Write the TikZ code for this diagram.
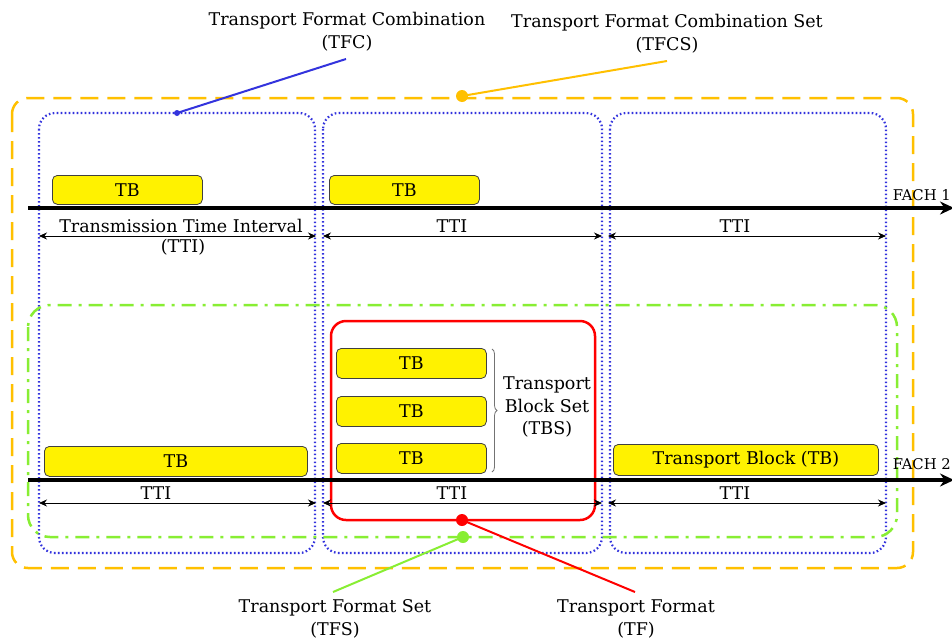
\documentclass[tikz,border=0pt]{standalone}
\usepackage{fontspec}
\setmainfont{DejaVu Serif}
\usetikzlibrary{arrows.meta,decorations.pathreplacing}
\definecolor{tfcsorange}{HTML}{FFC000}
\definecolor{tfcblue}{HTML}{3333DD}
\definecolor{tfsgreen}{HTML}{88EE33}
\definecolor{tfred}{HTML}{FF0000}
\begin{document}
\begin{tikzpicture}[x=1pt,y=-1pt,
  font=\fontsize{17.5}{22.5}\selectfont,
  tb/.style={draw=black!75, fill=yellow, rounded corners=5pt, line width=0.8pt, inner sep=0pt, anchor=north west},
  lbl/.style={align=center, inner sep=0pt},
  fachlbl/.style={inner sep=0pt, anchor=east, font=\fontsize{14.8}{17}\selectfont},
  tfcsbox/.style={draw=tfcsorange, line width=2.5pt, dash pattern=on 18pt off 9pt, rounded corners=16pt},
  tfcbox/.style={draw=tfcblue, line width=2.2pt, dash pattern=on 1.6pt off 2.4pt, rounded corners=16pt},
  tfsbox/.style={draw=tfsgreen, line width=2.5pt, dash pattern=on 14pt off 7pt on 3pt off 7pt, rounded corners=22pt},
  tfbox/.style={draw=tfred, line width=2.5pt, rounded corners=15pt},
  fach/.style={line width=4pt, -{Stealth[length=14pt,width=13pt]}},
  tti/.style={line width=0.8pt, {Stealth[length=8pt,width=7pt]}-{Stealth[length=8pt,width=7pt]}},
  callout/.style={line width=2pt}
]
\useasboundingbox[fill=white] (0,0) rectangle (952,640);

% containers
\draw[tfcsbox] (12,98) rectangle (913,568);
\draw[tfcbox] (39,113) rectangle (315,553);
\draw[tfcbox] (323,113) rectangle (602,553);
\draw[tfcbox] (610,113) rectangle (886,553);
\draw[tfsbox] (28,305) rectangle (897,537);
\draw[tfbox] (331,321) rectangle (595,520);

% channels
\coordinate (f1s) at (28,208);
\coordinate (f1e) at (954,208);
\coordinate (f2s) at (28,480);
\coordinate (f2e) at (954,480);
\draw[fach] (f1s) -- (f1e);
\draw[fach] (f2s) -- (f2e);
\node[fachlbl] (fach1) at (951,195) {FACH 1};
\node[fachlbl] (fach2) at (951,464) {FACH 2};

% transport blocks, FACH 1
\node[tb, minimum width=150pt, minimum height=29pt] (tbA) at (52,175) {TB};
\node[tb, minimum width=150pt, minimum height=29pt] (tbB) at (329,175) {TB};

% transport blocks, FACH 2
\node[tb, minimum width=263pt, minimum height=30pt] (tbC) at (44,446) {TB};
\node[tb, minimum width=150pt, minimum height=30pt] (tbD1) at (336,348) {TB};
\node[tb, minimum width=150pt, minimum height=30pt] (tbD2) at (336,396) {TB};
\node[tb, minimum width=150pt, minimum height=30pt] (tbD3) at (336,443) {TB};
\node[tb, minimum width=265pt, minimum height=31pt] (tbE) at (613,444) {Transport Block (TB)};

% brace
\coordinate (brt) at (492,349);
\coordinate (brb) at (492,472);
\draw[black!55, line width=0.8pt, decorate, decoration={brace, amplitude=5pt}] (brt) -- (brb);
\node[lbl] (tbs) at (547,407) {Transport\\Block Set\\(TBS)};

% TTI arrows, FACH 1
\coordinate (a1) at (39,236); \coordinate (a2) at (316,236);
\coordinate (a3) at (323,236); \coordinate (a4) at (602,236);
\coordinate (a5) at (608,236); \coordinate (a6) at (886,236);
\draw[tti] (a1) -- (a2);
\draw[tti] (a3) -- (a4);
\draw[tti] (a5) -- (a6);
\node[lbl] (ttiA) at (181,226) {Transmission Time Interval};
\node[lbl] (ttiAb) at (183,247) {(TTI)};
\node[lbl] (ttiB) at (452,226) {TTI};
\node[lbl] (ttiC) at (735,226) {TTI};

% TTI arrows, FACH 2
\coordinate (b1) at (39,503); \coordinate (b2) at (316,503);
\coordinate (b3) at (323,503); \coordinate (b4) at (602,503);
\coordinate (b5) at (608,503); \coordinate (b6) at (886,503);
\draw[tti] (b1) -- (b2);
\draw[tti] (b3) -- (b4);
\draw[tti] (b5) -- (b6);
\node[lbl] (ttiD) at (156,493) {TTI};
\node[lbl] (ttiE) at (452,493) {TTI};
\node[lbl] (ttiF) at (735,493) {TTI};

% callouts
\node[lbl] (tfc) at (347,31.5) {Transport Format Combination\\(TFC)};
\node[lbl] (tfcs) at (667,33.5) {Transport Format Combination Set\\(TFCS)};
\node[lbl] (tfs) at (335,619) {Transport Format Set\\(TFS)};
\node[lbl] (tf) at (636,619) {Transport Format\\(TF)};

\coordinate (tfcdot) at (177,113);
\coordinate (tfcend) at (346,59);
\draw[callout, tfcblue] (tfcdot) -- (tfcend);
\fill[tfcblue] (tfcdot) circle (3pt);

\coordinate (tfcsdot) at (462,96);
\coordinate (tfcsend) at (667,61);
\draw[callout, tfcsorange] (tfcsdot) -- (tfcsend);
\fill[tfcsorange] (tfcsdot) circle (6pt);

\coordinate (tfsdot) at (463,537);
\coordinate (tfsend) at (333,592);
\draw[callout, tfsgreen] (tfsdot) -- (tfsend);
\fill[tfsgreen] (tfsdot) circle (6pt);

\coordinate (tfdot) at (462,520);
\coordinate (tfend) at (635,592);
\draw[callout, tfred] (tfdot) -- (tfend);
\fill[tfred] (tfdot) circle (6pt);
\end{tikzpicture}
\end{document}
